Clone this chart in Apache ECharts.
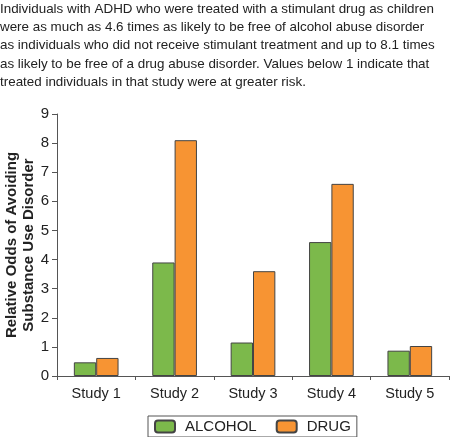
<!DOCTYPE html>
<html><head><meta charset="utf-8">
<script src="https://cdn.jsdelivr.net/npm/echarts@6/dist/echarts.min.js"></script>
<style>html,body{margin:0;padding:0;background:#fff}#c{width:450px;height:437px}</style>
</head><body><div id="c"></div>
<script>
const categories = ['Study 1','Study 2','Study 3','Study 4','Study 5'];
const alcohol = [0.47, 3.9, 1.15, 4.6, 0.87];
const drug = [0.62, 8.1, 3.6, 6.6, 1.03];
const yTicks = [0,1,2,3,4,5,6,7,8,9];
const captionLines = [
 'Individuals with ADHD who were treated with a stimulant drug as children',
 'were as much as 4.6 times as likely to be free of alcohol abuse disorder',
 'as individuals who did not receive stimulant treatment and up to 8.1 times',
 'as likely to be free of a drug abuse disorder. Values below 1 indicate that',
 'treated individuals in that study were at greater risk.'
];
const chart = echarts.init(document.getElementById('c'));
chart.setOption({
  animation:false,
  title:{text:captionLines.join('\n'), left:0, top:0, padding:0,
    textStyle:{fontFamily:'Liberation Sans', fontSize:13.4, fontWeight:'normal', color:'#222', lineHeight:18.3}},
  grid:{left:57,right:1,top:114,bottom:61, outerBoundsMode:'none', containLabel:false},
  legend:{left:148, top:416, padding:[3,6,3,6], borderColor:'#555', borderWidth:1, borderRadius:0,
    itemWidth:20, itemHeight:12, itemGap:19,
    textStyle:{fontFamily:'Liberation Sans', fontSize:15, color:'#222', padding:[0,0,0,5]},
    data:['ALCOHOL','DRUG']},
  xAxis:{type:'category', data:categories,
    axisLine:{lineStyle:{color:'#555'}}, axisTick:{show:true, length:4, lineStyle:{color:'#555'}},
    axisLabel:{fontFamily:'Liberation Sans', fontSize:14.5, color:'#222', margin:10}},
  yAxis:{type:'value', min:0, max:9, interval:1,
    name:'Relative Odds of Avoiding\nSubstance Use Disorder', nameLocation:'middle', nameGap:20, nameMoveOverlap:false,
    nameTextStyle:{fontFamily:'Liberation Sans', fontSize:15, fontWeight:'bold', color:'#222', lineHeight:17},
    axisLine:{show:true, lineStyle:{color:'#555'}}, axisTick:{show:true, length:5, lineStyle:{color:'#555'}},
    splitLine:{show:false},
    axisLabel:{fontFamily:'Liberation Sans', fontSize:15, color:'#222', margin:8,
      formatter:v=>yTicks.includes(v)?String(v):''}},
  series:[
    {name:'ALCOHOL', type:'bar', data:alcohol, barGap:'0%', barCategoryGap:'43%',
      itemStyle:{color:'#7cb94b', borderColor:'#444', borderWidth:1}},
    {name:'DRUG', type:'bar', data:drug, barGap:'0%', barCategoryGap:'43%',
      itemStyle:{color:'#f79433', borderColor:'#444', borderWidth:1}}
  ]
});
</script></body></html>
